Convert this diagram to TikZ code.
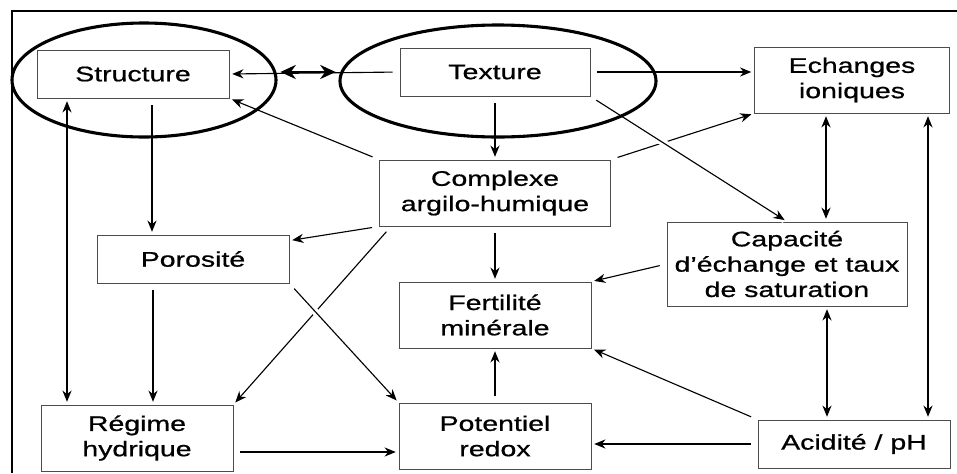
\documentclass[tikz,border=0pt]{standalone}
\usepackage{fontspec}
\setmainfont{Liberation Sans}[FakeStretch=1.35, FakeBold=0.8]
\usetikzlibrary{shapes.geometric, arrows.meta, positioning}

\tikzstyle{box} = [rectangle, draw=black!70, line width=0.6pt, minimum width=4.8cm, minimum height=1.2cm, text centered, align=center, inner sep=2pt, font=\fontsize{15}{18}\selectfont]
\tikzstyle{bigbox} = [box, minimum height=1.65cm]
\tikzstyle{ring} = [ellipse, draw=black, line width=2.2pt, inner sep=0pt]
\tikzstyle{line} = [draw, line width=0.8pt, ->, >={Stealth[length=8pt,width=6.5pt]}, shorten >=2pt, shorten <=5pt]
\tikzstyle{both} = [line, <->, shorten <=2pt]
\tikzstyle{bigarrow} = [draw, line width=1.8pt, <->, >={Stealth[length=11pt,width=10pt]}, shorten >=2pt, shorten <=2pt]
\tikzstyle{crossing} = [preaction={draw=white, line width=5pt, -}]
\tikzstyle{frame} = [draw, line width=1.2pt]

\begin{document}
\begin{tikzpicture}[node distance = 3cm]

        \useasboundingbox (0,0) rectangle (23.925,-11.825);
        \path [frame] (23.925,-0.275) -- (0.3,-0.275) -- (0.3,-11.825);

        \node (structure) [box] at (3.325,-1.85) {Structure};
        \node (texture) [box, right of=structure, node distance=9.05cm, yshift=0.05cm, minimum width=4.75cm] {Texture};
        \node (echanges) [bigbox, right of=texture, node distance=8.925cm, yshift=-0.2cm, minimum width=4.875cm] {Echanges\\ioniques};
        \node (complexe) [bigbox, below of=texture, node distance=3.025cm, minimum width=5.775cm] {Complexe\\argilo-humique};
        \node (fertilite) [bigbox, below of=complexe, node distance=3.05cm] {Fertilité\\minérale};
        \node (potentiel) [bigbox, below of=fertilite, node distance=3.025cm] {Potentiel\\redox};
        \node (porosite) [box, below of=structure, node distance=4.625cm, xshift=1.5cm] {Porosité};
        \node (regime) [bigbox, below of=structure, node distance=9.1cm, xshift=0.1cm] {Régime\\hydrique};
        \node (capacite) [box, below of=echanges, node distance=4.6cm, xshift=-1.625cm, minimum width=6cm, minimum height=2.1cm] {Capacité\\d'échange et taux\\de saturation};
        \node (acidite) [box, below of=echanges, node distance=9.1cm, xshift=0.05cm] {Acidité / pH};

        % Draw edges
        \path [line] (texture.west) -- (structure.east);
        \path [line] (texture.east) -- (texture.east -| echanges.west);
        \path [line] (texture.south) -- (complexe.north);
        \path [line] (complexe.north west) -- (structure.south east);
        \path [line] (complexe.north east) -- (echanges.south west);
        \path [line, crossing] (texture.south east) -- (capacite.north);
        \path [line] ([xshift=0.475cm]structure.south) -- ([xshift=0.475cm]structure.south |- porosite.north);
        \path [both] ([xshift=-1.65cm]structure.south) -- ([xshift=-1.65cm]structure.south |- regime.north);
        \path [line] (complexe.south west) -- ([yshift=-0.15cm]porosite.north east);
        \path [line] ([xshift=0.3cm]complexe.south west) -- (regime.north east);
        \path [line] ([xshift=-1cm]porosite.south) -- ([xshift=-1cm]porosite.south |- regime.north);
        \path [line, crossing] (porosite.south east) -- (potentiel.north west);
        \path [line] (complexe.south) -- (fertilite.north);
        \path [line] (capacite.west) -- (fertilite.north east);
        \path [both] ([xshift=-0.65cm]echanges.south) -- ([xshift=-0.65cm]echanges.south |- capacite.north);
        \path [both] ([xshift=1.9cm]echanges.south) -- ([xshift=1.9cm]echanges.south |- acidite.north);
        \path [both] ([xshift=1cm]capacite.south) -- ([xshift=1cm]capacite.south |- acidite.north);
        \path [line] (acidite.north west) -- (fertilite.south east);
        \path [line] (acidite.west) -- (acidite.west -| potentiel.east);
        \path [line] (potentiel.north) -- (fertilite.south);
        \path [line] ([yshift=-0.35cm]regime.east) -- ([yshift=-0.35cm]regime.east -| potentiel.west);

        % Rings round structure and texture
        \node (ringstructure) [ring, minimum width=6.6cm, minimum height=2.85cm] at (3.6,-2.0) {};
        \node (ringtexture) [ring, minimum width=7.9cm, minimum height=2.8cm] at (12.45,-2.025) {};
        \path [bigarrow] (ringstructure.east |- texture) -- (ringtexture.west |- texture);

\end{tikzpicture}
\end{document}
